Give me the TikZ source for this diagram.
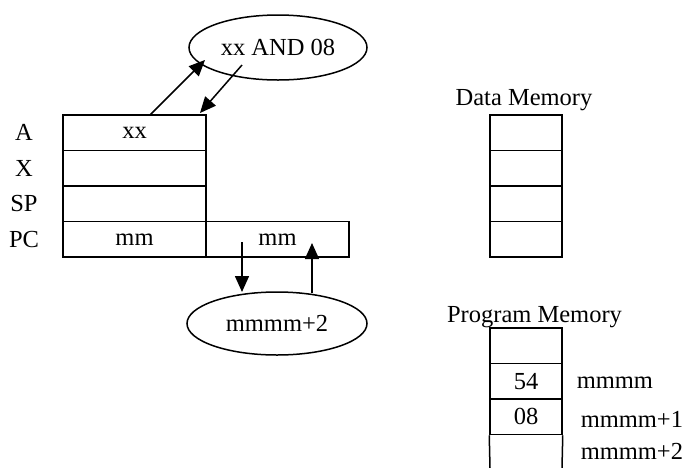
\documentclass[tikz,border=0pt]{standalone}
\usepackage{fontspec}
\setmainfont{Liberation Serif}
\usetikzlibrary{shapes.geometric,arrows.meta}
\begin{document}
\begin{tikzpicture}[x=1pt,y=-1pt,line width=1.5pt,
  every node/.style={font=\fontsize{24.5}{29}\selectfont},
  cell/.style={draw,rectangle,minimum width=143pt,minimum height=35.5pt,inner sep=0pt},
  mcell/.style={draw,rectangle,minimum width=72pt,minimum height=35.5pt,inner sep=0pt},
  oval/.style={draw,ellipse,inner sep=0pt},
  arr/.style={-{Triangle[length=16pt,width=14pt]}},
  lbl/.style={inner sep=0pt}]
\useasboundingbox (0,0) rectangle (686,467);
% register labels
\node[lbl] (lA) at (24,132.75) {A};
\node[lbl] (lX) at (24,168.25) {X};
\node[lbl] (lSP) at (24,203.75) {SP};
\node[lbl] (lPC) at (24,239.25) {PC};
% registers
\node[cell] (rA) at (134.5,132.75) {xx};
\node[cell] (rX) at (134.5,168.25) {};
\node[cell] (rSP) at (134.5,203.75) {};
\node[cell] (rPC) at (134.5,239.25) {mm};
\node[cell] (rPC2) at (277.5,239.25) {mm};
% ellipses
\node[oval,minimum width=178pt,minimum height=65pt] (and) at (278,47.5) {xx AND 08};
\node[oval,minimum width=180pt,minimum height=63pt] (next) at (277,323.5) {mmmm+2};
% arrows
\coordinate (a1s) at (150,115); \coordinate (a1e) at (205,60);
\coordinate (a2s) at (242,65);  \coordinate (a2e) at (200,113);
\coordinate (a3s) at (242,242); \coordinate (a3e) at (242,292);
\coordinate (a4s) at (312,293); \coordinate (a4e) at (312,243);
\draw[arr] (a1s) -- (a1e);
\draw[arr] (a2s) -- (a2e);
\draw[arr] (a3s) -- (a3e);
\draw[arr] (a4s) -- (a4e);
% data memory
\node[lbl,anchor=base] (dmt) at (524,105) {Data Memory};
\node[mcell] (d1) at (526,132.75) {};
\node[mcell] (d2) at (526,168.25) {};
\node[mcell] (d3) at (526,203.75) {};
\node[mcell] (d4) at (526,239.25) {};
% program memory
\node[lbl,anchor=base] (pmt) at (534.5,322) {Program Memory};
\node[mcell] (p1) at (526,345.75) {};
\node[mcell] (p2) at (526,381.25) {54};
\node[mcell] (p3) at (526,416.75) {08};
\coordinate (p4l) at (490,468); \coordinate (p4r) at (562,468);
\draw (p3.south west) -- (p4l);
\draw (p3.south east) -- (p4r);
\node[lbl,anchor=west] (am0) at (576,383) {mmmm};
\node[lbl,anchor=west] (am1) at (580,419) {mmmm+1};
\node[lbl,anchor=west] (am2) at (580,451) {mmmm+2};
\end{tikzpicture}
\end{document}
